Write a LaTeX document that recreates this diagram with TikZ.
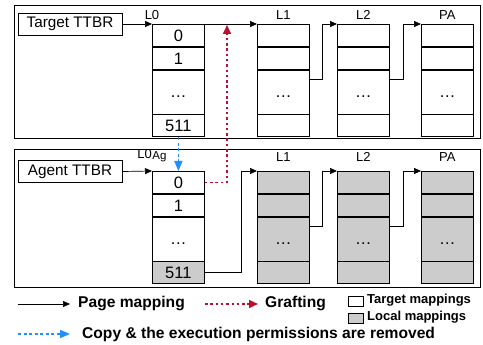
\documentclass[tikz,border=0pt]{standalone}
\usepackage{fontspec}
\setmainfont{Liberation Sans}
\usetikzlibrary{arrows.meta,calc}
\definecolor{graftred}{HTML}{B8102E}
\definecolor{copyblue}{HTML}{1E90FF}
\definecolor{localgray}{HTML}{CCCCCC}
\tikzset{
  panel/.style={draw, line width=0.9pt},
  ttbr/.style={draw, line width=0.8pt, minimum width=104pt, minimum height=22pt, inner sep=0pt, font=\fontsize{15.3}{17}\selectfont},
  cell/.style={draw, line width=0.8pt, fill=white, anchor=north west, minimum width=52pt, inner sep=0pt,
    text height=11.8pt, text depth=0pt, font=\fontsize{16.5}{18}\selectfont},
  loc/.style={cell, fill=localgray},
  rowA/.style={minimum height=22pt},
  rowB/.style={minimum height=44pt},
  lvl/.style={font=\fontsize{13}{15}\selectfont, inner sep=0pt},
  pm/.style={line width=0.7pt, -{Triangle[length=7pt,width=6pt]}},
  graft/.style={graftred, line width=1.6pt, dash pattern=on 2.5pt off 2.8pt, -{Triangle[length=9pt,width=8pt]}},
  copyarr/.style={copyblue, line width=1.6pt, dash pattern=on 3pt off 2.5pt, -{Triangle[length=10pt,width=8pt]}},
  legtxt/.style={anchor=west, inner sep=0pt, font=\bfseries\fontsize{15.6}{17}\selectfont},
  legsmall/.style={anchor=west, inner sep=0pt, font=\bfseries\fontsize{13}{15}\selectfont},
  swatch/.style={draw, line width=0.7pt, minimum width=15pt, minimum height=10pt, inner sep=0pt},
}
\begin{document}
\begin{tikzpicture}[x=1pt, y=-1pt]
\useasboundingbox (0,0) rectangle (483,345);

% panels
\draw[panel] (14,5) rectangle (480,138);
\draw[panel] (14,149) rectangle (480,287);

% ---- target translation tables ----
\node[ttbr] (tt) at (70,24) {Target TTBR};

% L0 (target)
\node[cell, rowA] (tl0r0) at (152,24) {0};
\node[cell, rowA] (tl0r1) at (tl0r0.south west) {1};
\node[cell, rowB] (tl0r2) at (tl0r1.south west) {…};
\node[cell, rowA] (tl0r3) at (tl0r2.south west) {511};
\node[lvl] (tl0lab) at (152,15) {L0};

% L1, L2, PA (target)
\foreach \n/\x/\lab in {tl1/257/L1, tl2/337/L2, tpa/421/PA}{
  \node[cell, rowA] (\n r0) at (\x,24) {};
  \node[cell, rowA] (\n r1) at (\n r0.south west) {};
  \node[cell, rowB] (\n r2) at (\n r1.south west) {…};
  \node[cell, rowA] (\n r3) at (\n r2.south west) {};
  \node[lvl] (\n lab) at ($(\n r0.north)+(0,-9)$) {\lab};
}

\draw[pm] (tt.east) -- (tl0r0.north west);
\draw[pm] (tl0r0.north east) -- (tl1r0.north west);
\draw[pm] ($(tl1r2.north east)+(0,10)$) -- ++(13,0) |- (tl2r0.north west);
\draw[pm] ($(tl2r2.north east)+(0,10)$) -- ++(14,0) |- (tpar0.north west);

% ---- agent translation tables ----
\node[ttbr] (at) at (70,171.5) {Agent TTBR};

% L0 (agent)
\node[cell, rowA] (al0r0) at (152,171) {0};
\node[cell, rowA] (al0r1) at (al0r0.south west) {1};
\node[cell, rowB] (al0r2) at (al0r1.south west) {…};
\node[loc, rowA] (al0r3) at (al0r2.south west) {511};
\node[lvl] (al0lab) at (152,156) {L0\kern0.5pt{\fontsize{11.5}{13}\selectfont\raisebox{-1pt}{Ag}}};

% L1, L2, PA (agent, local copies)
\foreach \n/\x/\lab in {al1/257/L1, al2/337/L2, apa/421/PA}{
  \node[loc, rowA] (\n r0) at (\x,171) {};
  \node[loc, rowA] (\n r1) at (\n r0.south west) {};
  \node[loc, rowB] (\n r2) at (\n r1.south west) {…};
  \node[loc, rowA] (\n r3) at (\n r2.south west) {};
  \node[lvl] (\n lab) at ($(\n r0.north)+(0,-14)$) {\lab};
}

\draw[pm] (at.east) -- (al0r0.north west);
\draw[pm] (al0r3.east) -- ++(37,0) |- (al1r0.north west);
\draw[pm] ($(al1r2.north east)+(0,10)$) -- ++(13,0) |- (al2r0.north west);
\draw[pm] ($(al2r2.north east)+(0,10)$) -- ++(14,0) |- (apar0.north west);

% grafting and copy
\coordinate (gtip) at (227,25);
\draw[graft] (al0r0.east) -| (gtip);
\draw[copyarr] (tl0r3.south) -- (al0r0.north);

% ---- legend ----
\coordinate (lg1a) at (18,304);
\coordinate (lg1b) at (70,304);
\coordinate (lg2a) at (205,304);
\coordinate (lg2b) at (258,304);
\coordinate (lg3a) at (18,334);
\coordinate (lg3b) at (70,334);
\draw[line width=0.7pt, -{Triangle[length=7pt,width=6pt]}] (lg1a) -- (lg1b);
\node[legtxt] (lgpm) at (78,304) {Page mapping};
\draw[graft] (lg2a) -- (lg2b);
\node[legtxt] (lggr) at (265,304) {Grafting};
\node[swatch, fill=white] (sw1) at (355.5,301.5) {};
\node[legsmall] (lgtm) at (367,300) {Target mappings};
\node[swatch, fill=localgray] (sw2) at (355.5,318) {};
\node[legsmall] (lglm) at (367,317) {Local mappings};
\draw[copyarr] (lg3a) -- (lg3b);
\node[legtxt] (lgcp) at (82,334) {Copy \& the execution permissions are removed};
\end{tikzpicture}
\end{document}
